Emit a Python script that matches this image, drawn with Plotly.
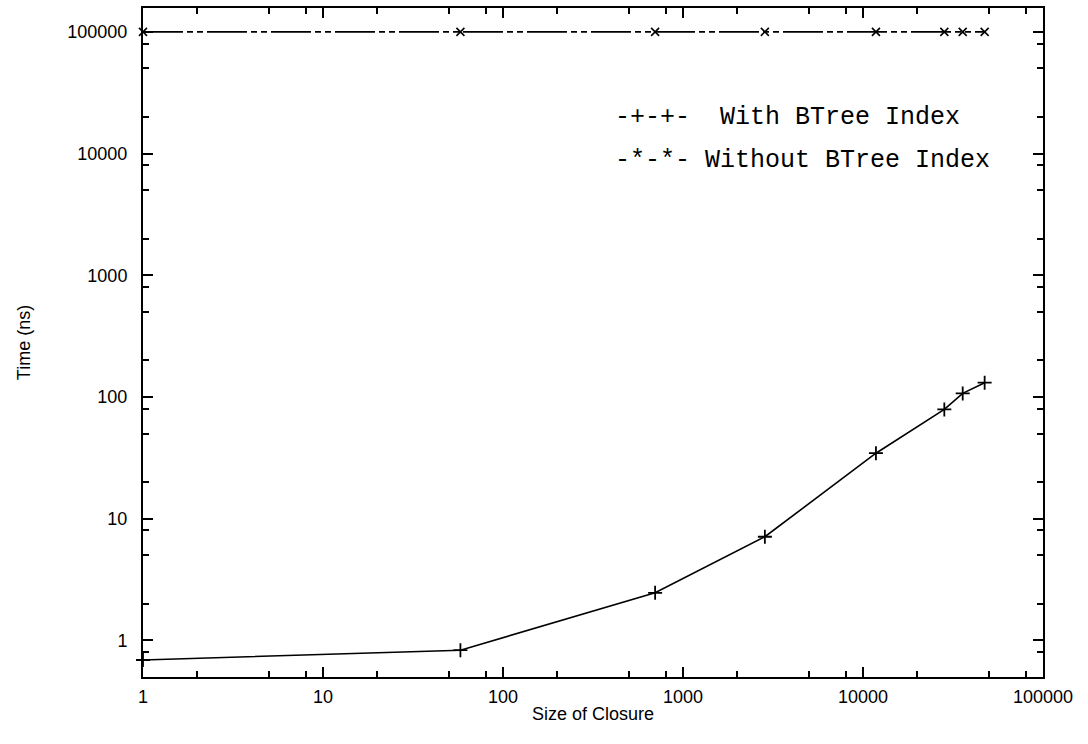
import plotly.graph_objects as go
import math

closure_size = [1, 58, 700, 2850, 11800, 28300, 35800, 47400]
time_with_btree = [0.69, 0.83, 2.46, 7.1, 34.5, 79, 107, 131]
time_without_btree = [100000, 100000, 100000, 100000, 100000, 100000, 100000, 100000]

x_tick_vals = [1, 10, 100, 1000, 10000, 100000]
x_tick_text = ["1", "10", "100", "1000", "10000", "100000"]
y_tick_vals = [1, 10, 100, 1000, 10000, 100000]
y_tick_text = ["1", "10", "100", "1000", "10000", "100000"]
x_minor_vals = [2, 5, 8, 20, 50, 80, 200, 500, 800, 2000, 5000, 8000, 20000, 50000, 80000]
y_minor_vals = [0.5, 0.8, 2, 5, 8, 20, 50, 80, 200, 500, 800, 2000, 5000, 8000, 20000, 50000, 80000]

legend_lines = ["-+-+-  With BTree Index", "-*-*- Without BTree Index"]

fig = go.Figure()
fig.add_trace(go.Scatter(
    x=closure_size, y=time_without_btree, mode="lines+markers",
    name="Without BTree Index",
    line=dict(color="black", width=1.6, dash="40px,4px,6px,4px,6px,4px"),
    marker=dict(symbol="x-thin-open", size=8, line=dict(color="black", width=1.6)),
    cliponaxis=False,
))
fig.add_trace(go.Scatter(
    x=closure_size, y=time_with_btree, mode="lines+markers",
    name="With BTree Index",
    line=dict(color="black", width=1.6),
    marker=dict(symbol="cross-thin-open", size=10, line=dict(color="black", width=1.8)),
    cliponaxis=False,
))

tick_font = dict(family="Liberation Sans, Arial, sans-serif", size=18, color="black")
title_font = dict(family="Liberation Sans, Arial, sans-serif", size=18, color="black")

fig.update_layout(
    width=1088, height=744,
    margin=dict(l=143, r=45, t=8, b=67),
    paper_bgcolor="white", plot_bgcolor="white",
    showlegend=False,
    font=tick_font,
)
fig.update_xaxes(
    type="log", range=[0, 5],
    tickvals=x_tick_vals, ticktext=x_tick_text,
    ticks="inside", ticklen=10, tickwidth=1.5, tickcolor="black",
    showline=True, linecolor="black", linewidth=2, mirror="allticks",
    showgrid=False, zeroline=False, automargin=False,
    ticklabelstandoff=2,
    minor=dict(tickvals=x_minor_vals, ticks="inside", ticklen=6, tickwidth=1.5, tickcolor="black", showgrid=False),
    title=dict(text="Size of Closure", font=title_font, standoff=2),
    tickfont=tick_font,
)
fig.update_yaxes(
    type="log", range=[math.log10(0.5), 5.196],
    tickvals=y_tick_vals, ticktext=y_tick_text,
    ticks="inside", ticklen=10, tickwidth=1.5, tickcolor="black",
    showline=True, linecolor="black", linewidth=2, mirror="allticks",
    showgrid=False, zeroline=False, automargin=False,
    ticklabelstandoff=10,
    minor=dict(tickvals=y_minor_vals, ticks="inside", ticklen=6, tickwidth=1.5, tickcolor="black", showgrid=False),
    title=dict(text="Time (ns)", font=title_font, standoff=32),
    tickfont=tick_font,
)

for i, txt in enumerate(legend_lines):
    fig.add_annotation(
        x=613, y=744 - [118, 160][i], xref="paper", yref="paper",
        text=txt, showarrow=False, xanchor="left", yanchor="middle",
        font=dict(family="Liberation Mono, Courier New, monospace", size=25, color="black"),
    )

# convert pixel positions of legend text to paper coords
for ann in fig.layout.annotations:
    px, py = ann.x, ann.y
    ann.x = (px - 143) / (1088 - 143 - 45)
    ann.y = (py - 67) / (744 - 8 - 67)

fig.write_html("out.html")
